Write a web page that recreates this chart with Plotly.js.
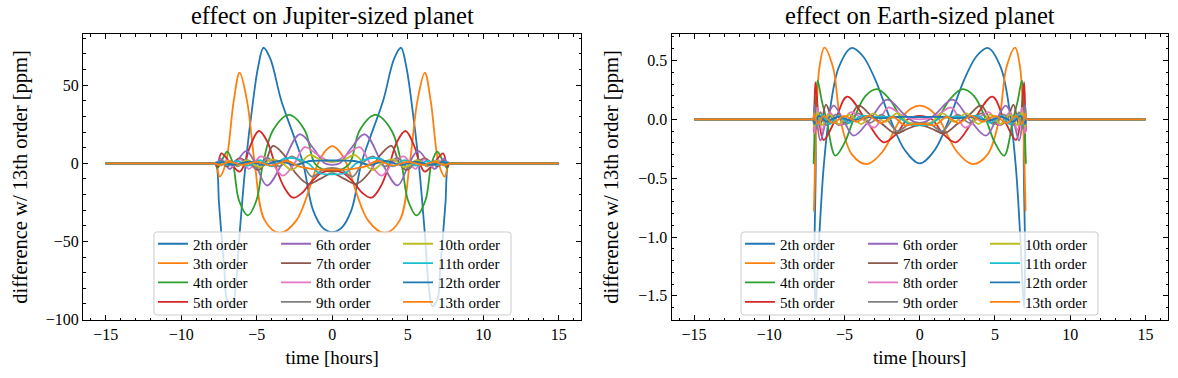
<!DOCTYPE html>
<html>
<head>
<meta charset="utf-8">
<script src="https://cdn.plot.ly/plotly-3.0.1.min.js"></script>
<style>
  html, body { margin: 0; padding: 0; background: #ffffff; }
  #chart { width: 1178px; height: 378px; }
</style>
</head>
<body>
<div id="chart"></div>
<script>
// ---- Jupiter-sized planet: difference from the 13th-order model (ppm) vs time (hours)
const jupT2 = [-15,-7.95,-7.72,-7.5,-7.34,-7.15,-6.97,-6.63,-6.4,-6.13,-5.73,-5.24,-4.9,-4.55,-4.1,-3.37,-2.6,-1.93,-1.27,-0.6,0,0.6,1.27,1.93,2.6,3.37,4.1,4.55,4.9,5.24,5.73,6.13,6.4,6.63,6.97,7.15,7.34,7.5,7.72,7.95,15];
const jupV2 = [0,0,0,-25,-45,-67,-87,-91.5,-80,-45,0,40,62,74,67,40,19,0,-30,-41.5,-44,-41.5,-30,0,19,40,67,74,62,40,0,-45,-80,-91.5,-87,-67,-45,-25,0,0,0];
const jupT3 = [-15,-7.95,-7.72,-7.45,-7.05,-6.52,-6.13,-5.64,-5.13,-4.47,-3.48,-2.37,-0.94,-0.45,0,0.45,0.94,2.37,3.48,4.47,5.13,5.64,6.13,6.52,7.05,7.45,7.72,7.95,15];
const jupV3 = [0,0,0,-8.5,0,40,58,40,0,-36.5,-44.5,-36.5,0,8,11,8,0,-36.5,-44.5,-36.5,0,40,58,40,0,-8.5,0,0,0];
const jupT4 = [-15,-7.95,-7.75,-7.6,-7.3,-6.95,-6.58,-6.17,-5.58,-5.02,-4.58,-3.92,-2.86,-1.82,-1.16,-0.5,0,0.5,1.16,1.82,2.86,3.92,4.58,5.02,5.58,6.17,6.58,6.95,7.3,7.6,7.75,7.95,15];
const jupV4 = [0,0,0,-3,2,7.5,0,-23.8,-33.3,-23.8,0,21.2,31,21.2,0,-4.5,-5.3,-4.5,0,21.2,31,21.2,0,-23.8,-33.3,-23.8,0,7.5,2,-3,0,0,0];
const jupT5 = [-15,-7.95,-7.78,-7.62,-7.34,-6.73,-6.13,-5.79,-5.46,-4.85,-4.3,-3.81,-3.2,-2.6,-2.0,-1.49,-0.7,0,0.7,1.49,2.0,2.6,3.2,3.81,4.3,4.85,5.46,5.79,6.13,6.73,7.34,7.62,7.78,7.95,15];
const jupV5 = [0,0,0,-2,6.4,0,-5.3,0,10.4,20.7,14,0,-15,-22,-19,-13,-6,-4.7,-6,-13,-19,-22,-15,0,14,20.7,10.4,0,-5.3,0,6.4,-2,0,0,0];
const jupT6 = [-15,-7.95,-7.78,-7.68,-7.4,-7.1,-6.79,-6.4,-5.68,-5.1,-4.32,-3.3,-2.15,-1.2,-0.5,0,0.5,1.2,2.15,3.3,4.32,5.1,5.68,6.4,6.79,7.1,7.4,7.68,7.78,7.95,15];
const jupV6 = [0,0,0,-1,3,0,-3.6,0,8,0,-14.2,0,18.6,9,0,-1,0,9,18.6,0,-14.2,0,8,0,-3.6,0,3,-1,0,0,0];
const jupT7 = [-15,-7.95,-7.78,-7.65,-7.4,-7.0,-6.6,-6.13,-5.5,-4.91,-4.45,-3.92,-3.2,-2.4,-1.6,-0.8,0,0.8,1.6,2.4,3.2,3.92,4.45,4.91,5.5,6.13,6.6,7.0,7.4,7.65,7.78,7.95,15];
const jupV7 = [0,0,0,-1,1.5,-2,0,3.2,0,-4.2,0,11.2,5.5,-6.5,-13.1,-10,-6.4,-10,-13.1,-6.5,5.5,11.2,0,-4.2,0,3.2,0,-2,1.5,-1,0,0,0];
const jupT8 = [-15,-7.95,-7.78,-7.6,-7.35,-7.0,-6.6,-6.1,-5.5,-4.74,-4.0,-3.26,-2.5,-1.82,-0.9,0,0.9,1.82,2.5,3.26,4.0,4.74,5.5,6.1,6.6,7.0,7.35,7.6,7.78,7.95,15];
const jupV8 = [0,0,0,1,-1.5,2,-2,2.5,-3.5,4.5,0,-7.9,0,10.4,5,1,5,10.4,0,-7.9,0,4.5,-3.5,2.5,-2,2,-1.5,1,0,0,0];
const jupT9 = [-15,-7.95,-7.78,-7.6,-7.35,-7.05,-6.7,-6.25,-5.7,-5.05,-4.3,-3.5,-2.7,-2.0,-1.35,-0.6,0,0.6,1.35,2.0,2.7,3.5,4.3,5.05,5.7,6.25,6.7,7.05,7.35,7.6,7.78,7.95,15];
const jupV9 = [0,0,0,-1,1,-1.5,1.5,-2,2.5,-3,3.5,-2,4.5,0,-8.5,-4,-3,-4,-8.5,0,4.5,-2,3.5,-3,2.5,-2,1.5,-1.5,1,-1,0,0,0];
const jupT10 = [-15,-7.95,-7.78,-7.4,-6.9,-6.3,-5.6,-4.8,-4.0,-3.3,-2.7,-2.1,-1.5,-0.7,0,0.7,1.5,2.1,2.7,3.3,4.0,4.8,5.6,6.3,6.9,7.4,7.78,7.95,15];
const jupV10 = [0,0,0,-1,1.5,-1.5,2,-2.5,2.5,0,-4.2,0,5.3,2,1,2,5.3,0,-4.2,0,2.5,-2.5,2,-1.5,1.5,-1,0,0,0];
const jupT11 = [-15,-7.95,-7.78,-7.4,-6.9,-6.3,-5.6,-4.8,-4.0,-3.2,-2.5,-1.6,-0.9,0,0.9,1.6,2.5,3.2,4.0,4.8,5.6,6.3,6.9,7.4,7.78,7.95,15];
const jupV11 = [0,0,0,1,-1,1.5,-1.5,2,-2,3,3.2,0,-6,-7,-6,0,3.2,3,-2,2,-1.5,1.5,-1,1,0,0,0];
const jupT12 = [-15,-7.95,-7.78,-7.3,-6.5,-5.5,-4.5,-3.5,-2.5,-1.5,-0.6,0,0.6,1.5,2.5,3.5,4.5,5.5,6.5,7.3,7.78,7.95,15];
const jupV12 = [0,0,0,0.8,-1,1,-1,1.5,-1,1.5,1.8,1.8,1.8,1.5,-1,1.5,-1,1,-1,0.8,0,0,0];
const jupT13 = [-15,-7.95,-7.78,-7.4,-6.8,-6,-5,-4,-3,-2.2,-1.4,-0.6,0,0.6,1.4,2.2,3,4,5,6,6.8,7.4,7.78,7.95,15];
const jupV13 = [0,0,0,-1,1,-1,1,-1.5,1.5,-2,-3.5,-4,-4,-4,-3.5,-2,1.5,-1.5,1,-1,1,-1,0,0,0];

// ---- Earth-sized planet
const earT2 = [-15,-7.25,-7.09,-7.0,-6.94,-6.85,-6.67,-6.39,-6.05,-5.39,-4.54,-3.8,-3.0,-1.95,-1.0,0,1.0,1.95,3.0,3.8,4.54,5.39,6.05,6.39,6.67,6.85,6.94,7.0,7.09,7.25,15];
const earV2 = [0,0,0,-1.2,-1.6,-1.45,-0.975,-0.41,0,0.44,0.606,0.54,0.35,0,-0.26,-0.375,-0.26,0,0.35,0.54,0.606,0.44,0,-0.41,-0.975,-1.45,-1.6,-1.2,0,0,0];
const earT3 = [-15,-7.25,-7.09,-7.03,-6.87,-6.67,-6.34,-5.76,-5.28,-4.5,-3.5,-2.5,-1.28,-0.6,0,0.6,1.28,2.5,3.5,4.5,5.28,5.76,6.34,6.67,6.87,7.03,7.09,7.25,15];
const earV3 = [0,0,0,-0.78,0,0.44,0.61,0.44,0,-0.3,-0.38,-0.28,0,0.09,0.116,0.09,0,-0.28,-0.38,-0.3,0,0.44,0.61,0.44,0,-0.78,0,0,0];
const earT4 = [-15,-7.25,-7.09,-7.05,-6.95,-6.79,-6.5,-6.2,-5.61,-5.0,-4.39,-3.6,-2.83,-2.0,-1.15,-0.55,0,0.55,1.15,2.0,2.83,3.6,4.39,5.0,5.61,6.2,6.5,6.79,6.95,7.05,7.09,7.25,15];
const earV4 = [0,0,0,-0.375,0,0.328,0.15,0,-0.309,-0.2,0,0.2,0.257,0.17,0,-0.045,-0.05,-0.045,0,0.17,0.257,0.2,0,-0.2,-0.309,0,0.15,0.328,0,-0.375,0,0,0];
const earT5 = [-15,-7.25,-7.09,-7.04,-6.94,-6.7,-6.39,-5.6,-4.83,-3.6,-2.4,-1.6,-0.8,0,0.8,1.6,2.4,3.6,4.83,5.6,6.39,6.7,6.94,7.04,7.09,7.25,15];
const earV5 = [0,0,0,-0.1,0.315,0,-0.176,0,0.193,0,-0.195,-0.13,0,0.03,0,-0.13,-0.195,0,0.193,0,-0.176,0,0.315,-0.1,0,0,0];
const earT6 = [-15,-7.25,-7.09,-7.0,-6.85,-6.6,-6.2,-5.72,-5.1,-4.39,-3.3,-2.17,-1.1,-0.4,0,0.4,1.1,2.17,3.3,4.39,5.1,5.72,6.2,6.6,6.85,7.0,7.09,7.25,15];
const earV6 = [0,0,0,0.12,0,-0.18,0,0.116,0,-0.139,0,0.167,0.05,-0.02,-0.03,-0.02,0.05,0.167,0,-0.139,0,0.116,0,-0.18,0,0.12,0,0,0];
const earT7 = [-15,-7.25,-7.09,-7.02,-6.9,-6.6,-6.23,-5.8,-5.3,-4.7,-4.06,-3.3,-2.5,-1.6,-0.8,0,0.8,1.6,2.5,3.3,4.06,4.7,5.3,5.8,6.23,6.6,6.9,7.02,7.09,7.25,15];
const earV7 = [0,0,0,-0.1,0.08,-0.05,0.125,0,-0.05,0,0.116,0.04,-0.04,-0.12,-0.08,-0.05,-0.08,-0.12,-0.04,0.04,0.116,0,-0.05,0,0.125,-0.05,0.08,-0.1,0,0,0];
const earT8 = [-15,-7.25,-7.09,-7.0,-6.8,-6.5,-6.0,-5.3,-4.6,-3.8,-3.0,-2.1,-1.1,0,1.1,2.1,3.0,3.8,4.6,5.3,6.0,6.5,6.8,7.0,7.09,7.25,15];
const earV8 = [0,0,0,-0.12,0.1,-0.09,0.06,-0.05,0.06,0,-0.07,0.1,0.03,0,0.03,0.1,-0.07,0,0.06,-0.05,0.06,-0.09,0.1,-0.12,0,0,0];
const earT9 = [-15,-7.25,-7.09,-7.02,-6.85,-6.6,-6.2,-5.6,-4.9,-4.1,-3.3,-2.5,-1.5,-0.7,0,0.7,1.5,2.5,3.3,4.1,4.9,5.6,6.2,6.6,6.85,7.02,7.09,7.25,15];
const earV9 = [0,0,0,0.1,-0.08,0.06,-0.05,0.04,-0.04,0.05,-0.03,0.04,-0.1,-0.04,-0.03,-0.04,-0.1,0.04,-0.03,0.05,-0.04,0.04,-0.05,0.06,-0.08,0.1,0,0,0];
const earT10 = [-15,-7.25,-7.09,-7.0,-6.8,-6.5,-6.0,-5.4,-4.7,-3.9,-3.1,-2.3,-1.5,-0.7,0,0.7,1.5,2.3,3.1,3.9,4.7,5.4,6.0,6.5,6.8,7.0,7.09,7.25,15];
const earV10 = [0,0,0,-0.06,0.06,-0.05,0.04,-0.04,0.04,-0.04,0.05,-0.02,0.05,-0.03,-0.04,-0.03,0.05,-0.02,0.05,-0.04,0.04,-0.04,0.04,-0.05,0.06,-0.06,0,0,0];
const earT11 = [-15,-7.25,-7.09,-7.0,-6.8,-6.5,-6.0,-5.4,-4.7,-3.9,-3.1,-2.3,-1.5,-0.7,0,0.7,1.5,2.3,3.1,3.9,4.7,5.4,6.0,6.5,6.8,7.0,7.09,7.25,15];
const earV11 = [0,0,0,0.05,-0.05,0.04,-0.04,0.03,-0.03,0.03,0.02,0.02,0.02,-0.04,-0.05,-0.04,0.02,0.02,0.02,0.03,-0.03,0.03,-0.04,0.04,-0.05,0.05,0,0,0];
const earT12 = [-15,-7.25,-7.09,-7.0,-6.7,-6.2,-5.5,-4.5,-3.5,-2.5,-1.5,-0.5,0,0.5,1.5,2.5,3.5,4.5,5.5,6.2,6.7,7.0,7.09,7.25,15];
const earV12 = [0,0,0,-0.04,0.03,-0.02,0.02,-0.01,0.02,0.01,0.02,0.02,0.02,0.02,0.02,0.01,0.02,-0.01,0.02,-0.02,0.03,-0.04,0,0,0];
const earT13 = [-15,-7.25,-7.09,-7.0,-6.8,-6.4,-5.8,-5.0,-4.2,-3.4,-2.6,-1.8,-1.0,-0.4,0,0.4,1.0,1.8,2.6,3.4,4.2,5.0,5.8,6.4,6.8,7.0,7.09,7.25,15];
const earV13 = [0,0,0,0.05,-0.04,0.03,-0.03,0.03,-0.02,0.03,-0.03,0.02,-0.05,-0.04,-0.04,-0.04,-0.05,0.02,-0.03,0.03,-0.02,0.03,-0.03,0.03,-0.04,0.05,0,0,0];

// ---- labels and styling
const orderLabels = ['2th order','3th order','4th order','5th order','6th order','7th order',
                     '8th order','9th order','10th order','11th order','12th order','13th order'];
const lineColors = ['#1f77b4','#ff7f0e','#2ca02c','#d62728','#9467bd','#8c564b',
                    '#e377c2','#7f7f7f','#bcbd22','#17becf','#1f77b4','#ff7f0e'];
const panelTitles = ['effect on Jupiter-sized planet', 'effect on Earth-sized planet'];
const xTitle = 'time [hours]';
const yTitle = 'difference w/ 13th order [ppm]';

const jupTimes = [jupT2,jupT3,jupT4,jupT5,jupT6,jupT7,jupT8,jupT9,jupT10,jupT11,jupT12,jupT13];
const jupDiffs = [jupV2,jupV3,jupV4,jupV5,jupV6,jupV7,jupV8,jupV9,jupV10,jupV11,jupV12,jupV13];
const earTimes = [earT2,earT3,earT4,earT5,earT6,earT7,earT8,earT9,earT10,earT11,earT12,earT13];
const earDiffs = [earV2,earV3,earV4,earV5,earV6,earV7,earV8,earV9,earV10,earV11,earV12,earV13];

const FONT = 'Liberation Serif, "Times New Roman", "DejaVu Serif", serif';

// plot-area geometry (paper fractions of the 1085 x 286 px plotting region)
const leftDomain = [0, 0.4594];
const rightDomain = [0.5424, 1];

// legend grid: 3 columns x 4 rows per panel, entries run down each column
const legendColX = [[0.0645, 0.1779, 0.2903], [0.6055, 0.7189, 0.8313]];
const legendRowY = [0.3234, 0.2559, 0.1881, 0.1203];

const traces = [];
const legends = {};
[[jupTimes, jupDiffs, 'x', 'y'], [earTimes, earDiffs, 'x2', 'y2']].forEach(([ts, vs, xa, ya], p) => {
  for (let i = 0; i < orderLabels.length; i++) {
    const n = p * orderLabels.length + i + 1;
    const id = n === 1 ? 'legend' : 'legend' + n;
    legends[id] = {
      x: legendColX[p][Math.floor(i / 4)], y: legendRowY[i % 4],
      xanchor: 'left', yanchor: 'top',
      bgcolor: 'rgba(0,0,0,0)', borderwidth: 0, itemwidth: 30,
      font: { family: FONT, size: 15, color: '#000' }
    };
    traces.push({
      type: 'scatter', mode: 'lines',
      x: ts[i], y: vs[i], xaxis: xa, yaxis: ya,
      name: orderLabels[i], legend: id,
      line: { color: lineColors[i], width: 1.8, shape: 'spline', smoothing: 1 },
      hoverinfo: 'skip'
    });
  }
});

const minorTicks = (dtick) => ({ ticks: 'inside', ticklen: 2.5, tickwidth: 1, tickcolor: '#000', dtick: dtick, showgrid: false });

function axisStyle(extra) {
  return Object.assign({
    showline: true, linecolor: '#000', linewidth: 1, mirror: 'allticks',
    ticks: 'inside', ticklen: 5, tickwidth: 1, tickcolor: '#000',
    showgrid: false, zeroline: false,
    tickfont: { family: FONT, size: 16, color: '#000' }
  }, extra);
}

function roundedBox(x0, y0, x1, y1, rx, ry) {
  return `M${x0 + rx},${y0} L${x1 - rx},${y0} Q${x1},${y0} ${x1},${y0 + ry} ` +
         `L${x1},${y1 - ry} Q${x1},${y1} ${x1 - rx},${y1} L${x0 + rx},${y1} ` +
         `Q${x0},${y1} ${x0},${y1 - ry} L${x0},${y0 + ry} Q${x0},${y0} ${x0 + rx},${y0} Z`;
}
const legendFrame = (x0, x1) => ({
  type: 'path', xref: 'paper', yref: 'paper', layer: 'above',
  path: roundedBox(x0, 0.0175, x1, 0.3077, 0.0028, 0.0105),
  fillcolor: 'rgba(255,255,255,0.8)', line: { color: '#cccccc', width: 1 }
});

const layout = Object.assign({
  width: 1178, height: 378,
  margin: { l: 83, r: 10, t: 34, b: 58, pad: 0 },
  paper_bgcolor: '#fff', plot_bgcolor: '#fff',
  font: { family: FONT, color: '#000' },
  showlegend: true,
  xaxis: axisStyle({
    domain: leftDomain, anchor: 'y', range: [-16.5, 16.5], tick0: 0, dtick: 5, minor: minorTicks(1),
    title: { text: xTitle, font: { family: FONT, size: 19 }, standoff: 8 }
  }),
  yaxis: axisStyle({
    domain: [0, 1], anchor: 'x', range: [-100.3, 82.8], tick0: 0, dtick: 50, minor: minorTicks(10),
    title: { text: yTitle, font: { family: FONT, size: 20.5 }, standoff: 12 }
  }),
  xaxis2: axisStyle({
    domain: rightDomain, anchor: 'y2', range: [-16.5, 16.5], tick0: 0, dtick: 5, minor: minorTicks(1),
    title: { text: xTitle, font: { family: FONT, size: 19 }, standoff: 8 }
  }),
  yaxis2: axisStyle({
    domain: [0, 1], anchor: 'x2', range: [-1.705, 0.725], tick0: 0, dtick: 0.5, tickformat: '.1f',
    minor: minorTicks(0.1),
    title: { text: yTitle, font: { family: FONT, size: 20.5 }, standoff: 14 }
  }),
  shapes: [legendFrame(0.0654, 0.3945), legendFrame(0.6065, 0.9355)],
  annotations: panelTitles.map((t, k) => ({
    text: t, xref: 'paper', yref: 'paper',
    x: k === 0 ? (leftDomain[0] + leftDomain[1]) / 2 : (rightDomain[0] + rightDomain[1]) / 2,
    y: 1, xanchor: 'center', yanchor: 'bottom', yshift: 3, showarrow: false,
    font: { family: FONT, size: 24.5, color: '#000' }
  }))
}, legends);

Plotly.newPlot('chart', traces, layout, { displayModeBar: false, staticPlot: true });
</script>
</body>
</html>
